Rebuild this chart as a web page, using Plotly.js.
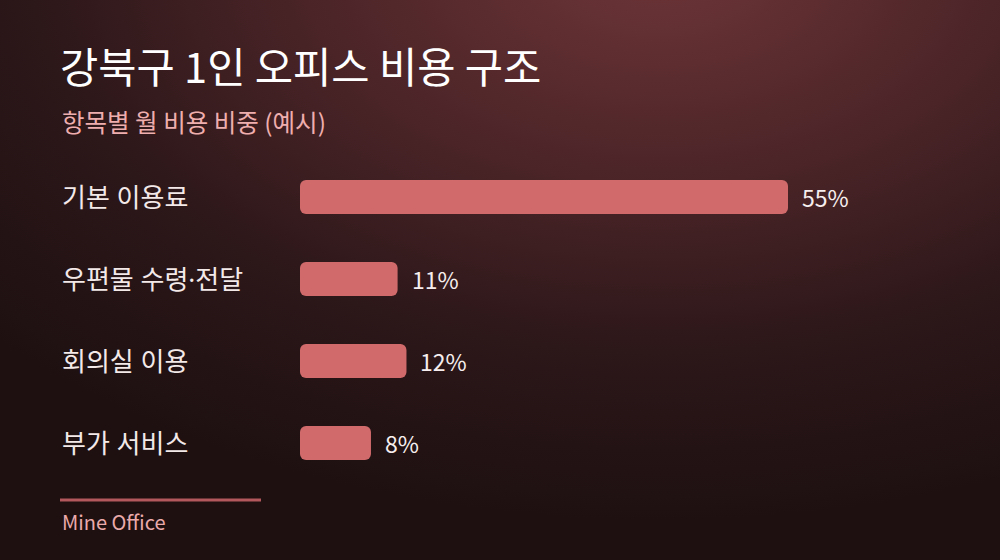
<!DOCTYPE html>
<html>
<head>
<meta charset="utf-8">
<script src="https://cdn.plot.ly/plotly-3.0.1.min.js"></script>
<style>
  html, body { margin: 0; padding: 0; }
  body {
    width: 1000px; height: 560px; overflow: hidden;
    background: radial-gradient(ellipse 900px 560px at 660px -40px, #6e3538 0%, #4a2427 40%, #2c1719 70%, #1e1011 100%);
  }
  #chart { width: 1000px; height: 560px; }
</style>
</head>
<body>
<div id="chart"></div>
<script>
var categories = ['기본 이용료', '우편물 수령·전달', '회의실 이용', '부가 서비스'];
var shares = [55, 11, 12, 8];
var valueLabels = ['55%', '11%', '12%', '8%'];

var W = 1000, H = 560;
var M = { l: 300, r: 100, t: 156, b: 76 };
var plotW = W - M.l - M.r, plotH = H - M.t - M.b;
var font = '"Noto Sans CJK KR", "Noto Sans", sans-serif';
// latin first so the middle dot stays narrow, hangul falls back to CJK
var labelFont = '"Noto Sans", "Noto Sans CJK KR", sans-serif';

function px2x(px) { return (px - M.l) / plotW; }
function px2y(py) { return (H - M.b - py) / plotH; }

// an explicit base makes plotly round both ends of the bar
var trace = {
  type: 'bar', orientation: 'h',
  y: categories,
  x: shares,
  base: 0,
  width: 0.415,
  marker: { color: '#d06a6b', cornerradius: 6, line: { width: 0 } },
  hoverinfo: 'skip'
};

var annotations = [];
categories.forEach(function (c, i) {
  annotations.push({
    text: c, x: px2x(60), xref: 'paper', y: c, yref: 'y',
    xanchor: 'left', yanchor: 'middle', showarrow: false,
    font: { family: labelFont, size: 26, color: '#f3e9e9' }
  });
  annotations.push({
    text: valueLabels[i], x: shares[i], xref: 'x', y: c, yref: 'y',
    xanchor: 'left', yanchor: 'middle', xshift: 12, showarrow: false,
    font: { family: font, size: 23, color: '#f6eeee' }
  });
});
annotations.push({
  text: '항목별 월 비용 비중 (예시)', x: px2x(60), xref: 'paper', y: px2y(122), yref: 'paper',
  xanchor: 'left', yanchor: 'middle', showarrow: false,
  font: { family: font, size: 24.5, color: '#efaeae' }
});
annotations.push({
  text: 'Mine Office', x: px2x(60), xref: 'paper', y: px2y(521), yref: 'paper',
  xanchor: 'left', yanchor: 'middle', showarrow: false,
  font: { family: font, size: 20, color: '#eaaaaa' }
});

var layout = {
  width: W, height: H,
  margin: M,
  paper_bgcolor: 'rgba(0,0,0,0)',
  plot_bgcolor: 'rgba(0,0,0,0)',
  showlegend: false,
  title: {
    text: '강북구 1인 오피스 비용 구조',
    xref: 'container', yref: 'container',
    x: 0.06, xanchor: 'left', y: 1 - 68 / H, yanchor: 'middle',
    font: { family: font, size: 41.6, color: '#ffffff' }
  },
  xaxis: {
    range: [0, plotW / (488 / 55)],
    visible: false, fixedrange: true
  },
  yaxis: {
    type: 'category', autorange: 'reversed',
    visible: false, fixedrange: true
  },
  shapes: [{
    type: 'line', xref: 'paper', yref: 'paper',
    x0: px2x(60), x1: px2x(261), y0: px2y(500), y1: px2y(500),
    line: { color: '#b3595d', width: 3 }
  }],
  annotations: annotations
};

Plotly.newPlot('chart', [trace], layout, { displayModeBar: false, staticPlot: true });
</script>
</body>
</html>
